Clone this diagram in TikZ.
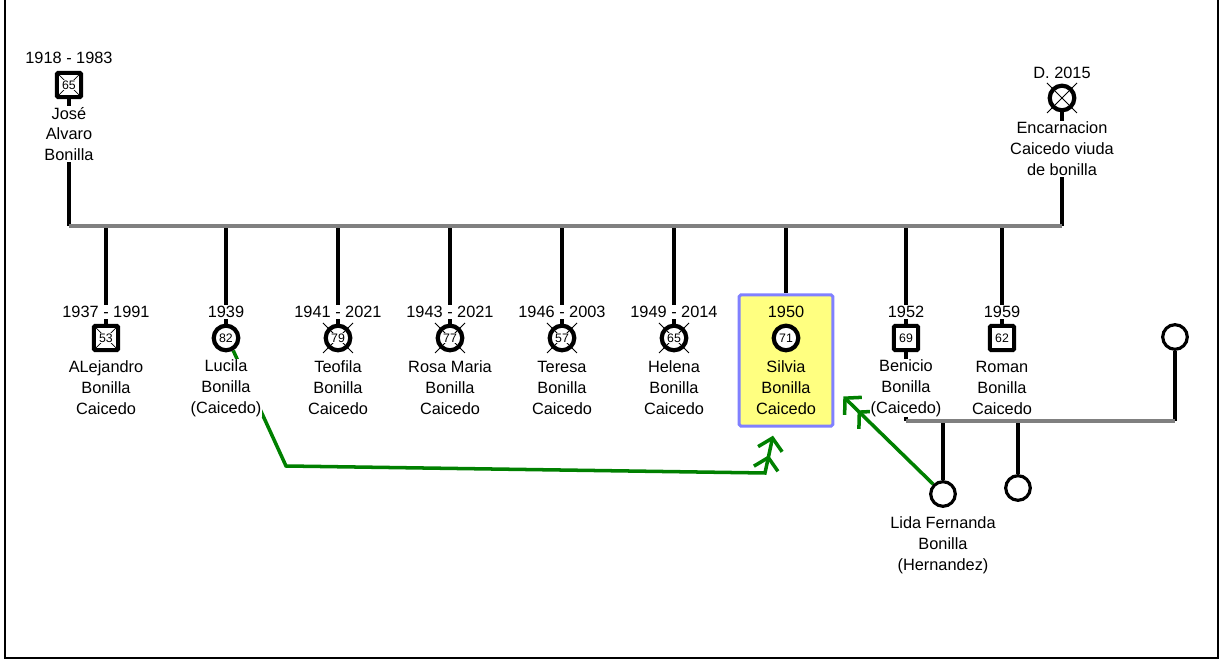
\documentclass[tikz,border=0pt]{standalone}
\usepackage{fontspec}
\setmainfont{Liberation Sans}
\usetikzlibrary{arrows.meta, backgrounds, positioning}

\tikzset{
  famtext/.style={font=\fontsize{9.3}{11.9}\selectfont, align=center, inner sep=0.5pt, fill=white},
  agetext/.style={font=\fontsize{7}{7}\selectfont, inner sep=0.6pt, fill=white},
  male/.style={draw, rectangle, line width=2.4pt, minimum size=13.8pt, inner sep=0pt, fill=white, rounded corners=0.8pt},
  female/.style={draw, circle, line width=2.4pt, minimum size=14pt, inner sep=0pt, fill=white},
  dead/.style={path picture={\draw[line width=0.4pt] (path picture bounding box.south west) -- (path picture bounding box.north east) (path picture bounding box.north west) -- (path picture bounding box.south east);}},
  ticks/.style={append after command={([shift={(-15,-15)}]\tikzlastnode.center) edge[line width=0.5pt] ([shift={(15,15)}]\tikzlastnode.center) ([shift={(-15,15)}]\tikzlastnode.center) edge[line width=0.5pt] ([shift={(15,-15)}]\tikzlastnode.center)}},
  lm/.style={male}, lf/.style={female},
  dm/.style={male, dead}, df/.style={female, ticks},
  kidline/.style={line width=2pt, black},
  barline/.style={line width=2.3pt, gray},
  silviabox/.style={draw={rgb,255:red,128;green,128;blue,255}, fill={rgb,255:red,255;green,255;blue,128}, line width=1.7pt, rounded corners=1pt, minimum width=53.3pt, minimum height=74.8pt},
  linkarrow/.style={draw=green!50!black, line width=2pt, -{Straight Barb[length=6.5pt,width=14pt,sep=2.5pt] Straight Barb[length=6.5pt,width=14pt]}}
}

\begin{document}
\begin{tikzpicture}[x=0.02cm, y=-0.02cm]
\useasboundingbox (0,0) rectangle (1225,661);
\draw[line width=0.6pt] (5,0) -- (5,658) -- (1218,658) -- (1218,0);

% parents
\node[dm] (father) at (69,85) {};
\node[agetext] (father-age) at (father) {65};
\node[famtext] (father-year) at (69,58) {1918 - 1983};
\node[famtext] (father-name) at (69,134) {Jos\'e\\Alvaro\\Bonilla};

\node[female, ticks] (mother) at (1062,98) {};
\node[famtext] (mother-year) at (1062,73) {D. 2015};
\node[famtext] (mother-name) at (1062,149) {Encarnacion\\Caicedo viuda\\de bonilla};

\coordinate (bar) at (69,226);
\begin{scope}[on background layer]
  \draw[kidline] (father) -- (father |- bar);
  \draw[kidline] (mother) -- (mother |- bar);
\end{scope}
\draw[barline] (bar) -- (mother |- bar);

% children
\foreach \x/\yr/\kind/\age/\id/\nm in {
  106/1937 - 1991/dm/53/alejandro/{ALejandro\\Bonilla\\Caicedo},
  226/1939/lf/82/lucila/{Lucila\\Bonilla\\(Caicedo)},
  338/1941 - 2021/df/79/teofila/{Teofila\\Bonilla\\Caicedo},
  450/1943 - 2021/df/77/rosa/{Rosa Maria\\Bonilla\\Caicedo},
  562/1946 - 2003/df/57/teresa/{Teresa\\Bonilla\\Caicedo},
  674/1949 - 2014/df/65/helena/{Helena\\Bonilla\\Caicedo},
  906/1952/lm/69/benicio/{Benicio\\Bonilla\\(Caicedo)},
  1002/1959/lm/62/roman/{Roman\\Bonilla\\Caicedo}}
{
  \node[\kind] (\id) at (\x,338) {};
  \node[agetext] (\id-age) at (\id) {\age};
  \node[famtext] (\id-year) at (\x,312) {\yr};
  \node[famtext] (\id-name) at (\x,388) {\nm};
  \begin{scope}[on background layer]
    \draw[kidline] (\id |- bar) -- (\id);
  \end{scope}
}

% Silvia
\node[silviabox] (silvia) at (786,360.5) {};
\node[female] (silvia-p) at (786,338) {};
\node[agetext] (silvia-age) at (silvia-p) {71};
\node[famtext, fill=none] (silvia-year) at (786,312) {1950};
\node[famtext, fill=none] (silvia-name) at (786,388) {Silvia\\Bonilla\\Caicedo};
\begin{scope}[on background layer]
  \draw[kidline] (silvia-p |- bar) -- (silvia.north);
\end{scope}

% Benicio's family
\coordinate (wbar) at (906,421);
\node[female, line width=1.8pt] (wife) at (1175,337) {};
\node[female, line width=1.8pt] (lida) at (943,494) {};
\node[female, line width=1.8pt] (grandkid) at (1018,488) {};
\node[famtext] (lida-name) at (943,545) {Lida Fernanda\\Bonilla\\(Hernandez)};
\begin{scope}[on background layer]
  \draw[kidline] (benicio) -- (wbar);
  \draw[kidline] (wife) -- (wife |- wbar);
  \draw[kidline] (lida |- wbar) -- (lida);
  \draw[kidline] (grandkid |- wbar) -- (grandkid);
  \draw[barline] (wbar) -- (wife |- wbar);
  % links
  \draw[linkarrow] (lucila.-60) -- (286,466) -- (765,473) -- ([shift={(-13,8)}]silvia.south);
  \draw[linkarrow] (lida.135) -- ([shift={(9,36)}]silvia.east);
\end{scope}

\end{tikzpicture}
\end{document}
